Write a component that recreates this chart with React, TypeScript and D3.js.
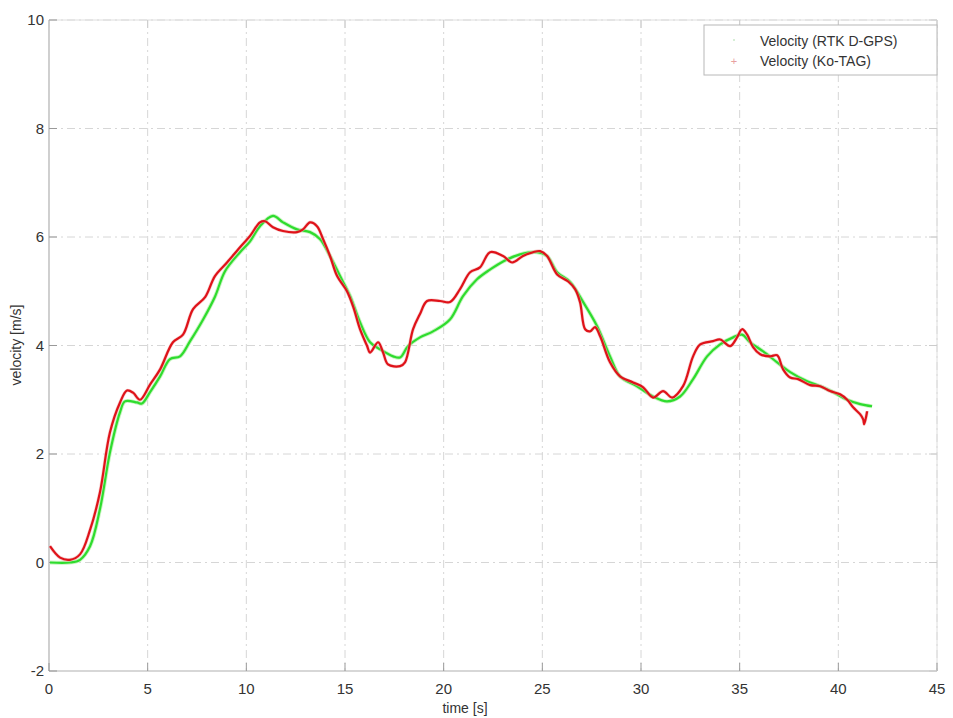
import React from "react";
import * as d3 from "d3";

const xTicks = [0, 5, 10, 15, 20, 25, 30, 35, 40, 45];
const yTicks = [-2, 0, 2, 4, 6, 8, 10];

const rtkTime = [0.05, 1.06, 1.57, 2.08, 2.58, 3.09, 3.6, 3.85, 4.46, 4.71, 5.12, 5.63, 6.13, 6.64, 7.15, 7.81, 8.41, 8.92, 9.68, 10.19, 10.69, 11.35, 11.86, 12.57, 13.23, 13.74, 14.24, 14.75, 15.26, 15.76, 16.27, 16.78, 17.44, 17.79, 18.2, 18.8, 19.46, 20.32, 20.98, 21.69, 22.35, 23.01, 23.87, 24.73, 25.24, 25.75, 26.41, 27.07, 27.77, 28.43, 28.94, 29.8, 30.61, 31.32, 31.98, 32.64, 33.35, 34.01, 34.67, 35.12, 35.53, 36.19, 36.9, 37.56, 38.42, 39.08, 39.74, 40.45, 41.11, 41.71];
const rtkVel = [0, 0, 0.05, 0.3, 0.98, 2.03, 2.77, 2.97, 2.95, 2.93, 3.14, 3.43, 3.75, 3.8, 4.08, 4.48, 4.9, 5.37, 5.72, 5.92, 6.2, 6.39, 6.27, 6.14, 6.09, 5.96, 5.65, 5.28, 4.91, 4.43, 4.06, 3.93, 3.8, 3.78, 3.99, 4.15, 4.26, 4.48, 4.91, 5.22, 5.4, 5.55, 5.68, 5.72, 5.65, 5.35, 5.17, 4.8, 4.36, 3.8, 3.43, 3.25, 3.06, 2.97, 3.06, 3.38, 3.8, 4.02, 4.15, 4.2, 4.06, 3.89, 3.69, 3.51, 3.34, 3.25, 3.14, 3.0, 2.92, 2.88];

const kotagTime = [0.05, 0.56, 1.06, 1.57, 2.08, 2.58, 3.09, 3.6, 3.95, 4.26, 4.61, 5.12, 5.63, 6.28, 6.79, 7.3, 7.91, 8.41, 9.02, 9.68, 10.19, 10.69, 10.95, 11.35, 11.86, 12.57, 12.87, 13.23, 13.58, 13.89, 14.24, 14.6, 15.1, 15.41, 15.76, 16.12, 16.27, 16.68, 16.93, 17.18, 17.79, 18.04, 18.45, 18.8, 19.16, 19.82, 20.32, 20.83, 21.34, 21.84, 22.35, 23.01, 23.47, 24.02, 24.53, 24.89, 25.24, 25.75, 26.31, 26.66, 26.91, 27.17, 27.42, 27.67, 27.93, 28.43, 28.94, 29.6, 30.11, 30.61, 31.12, 31.58, 32.13, 32.64, 33.0, 33.65, 34.01, 34.52, 34.87, 35.12, 35.38, 35.68, 36.04, 36.54, 36.9, 37.2, 37.56, 37.96, 38.57, 39.08, 39.58, 40.09, 40.45, 40.75, 41.11, 41.26, 41.31, 41.46];
const kotagVel = [0.3, 0.09, 0.05, 0.15, 0.6, 1.29, 2.4, 2.95, 3.17, 3.13, 3.0, 3.28, 3.56, 4.06, 4.2, 4.67, 4.89, 5.28, 5.53, 5.81, 6.02, 6.27, 6.29, 6.18, 6.11, 6.09, 6.14, 6.27, 6.2, 5.96, 5.65, 5.28, 5.0, 4.72, 4.3, 3.99, 3.87, 4.06, 3.87, 3.65, 3.62, 3.69, 4.3, 4.58, 4.82, 4.82, 4.8, 5.04, 5.35, 5.44, 5.72, 5.65, 5.53, 5.65, 5.72, 5.74, 5.65, 5.31, 5.18, 5.04, 4.8, 4.3, 4.26, 4.34, 4.17, 3.69, 3.43, 3.32, 3.23, 3.04, 3.16, 3.04, 3.25, 3.8, 4.02, 4.08, 4.11, 3.99, 4.15, 4.3, 4.2, 3.97, 3.84, 3.8, 3.82, 3.56, 3.41, 3.38, 3.27, 3.25, 3.16, 3.1, 3.0, 2.86, 2.73, 2.64, 2.55, 2.79];

const seriesNames = ["Velocity (RTK D-GPS)", "Velocity (Ko-TAG)"];

export default function App() {
  const left = 49, right = 937, top = 20, bottom = 671;
  const x = d3.scaleLinear().domain([0, 45]).range([left, right]);
  const y = d3.scaleLinear().domain([-2, 10]).range([bottom, top]);
  const mk = (ts: number[], vs: number[]) =>
    d3
      .line<number>()
      .x((_, i) => x(ts[i]))
      .y((v) => y(v))
      .curve(d3.curveCatmullRom.alpha(0.5))(vs) || "";
  const font = "'Liberation Sans', Arial, sans-serif";
  const grid = "#d6d6d6";
  return (
    <svg
      width={953}
      height={718}
      style={{ position: "absolute", left: 0, top: 0, background: "#fff" }}
    >
      <rect x={0} y={0} width={953} height={718} fill="#fff" />
      {xTicks.slice(1).map((t) => (
        <line key={"gx" + t} x1={x(t)} x2={x(t)} y1={top} y2={bottom} stroke={grid} strokeWidth={1} strokeDasharray="8,4,2,4" />
      ))}
      {yTicks.slice(1).map((t) => (
        <line key={"gy" + t} x1={left} x2={right} y1={y(t)} y2={y(t)} stroke={grid} strokeWidth={1} strokeDasharray="8,4,2,4" />
      ))}
      <line x1={left} x2={left} y1={top} y2={bottom} stroke="#b0b0b0" strokeWidth={1.2} />
      <line x1={left} x2={right} y1={bottom} y2={bottom} stroke="#b0b0b0" strokeWidth={1.2} />
      <line x1={left} x2={right} y1={top} y2={top} stroke="#dedede" strokeWidth={1} />
      <line x1={right} x2={right} y1={top} y2={bottom} stroke="#dedede" strokeWidth={1} />
      {xTicks.map((t) => (
        <g key={"xt" + t}>
          <line x1={x(t)} x2={x(t)} y1={bottom} y2={bottom - 8} stroke="#999" />
          <line x1={x(t)} x2={x(t)} y1={top} y2={top + 8} stroke="#ccc" />
          <text x={x(t)} y={694} textAnchor="middle" fontFamily={font} fontSize={15} fill="#333">{t}</text>
        </g>
      ))}
      {yTicks.map((t) => (
        <g key={"yt" + t}>
          <line x1={left} x2={left + 8} y1={y(t)} y2={y(t)} stroke="#999" />
          <line x1={right} x2={right - 8} y1={y(t)} y2={y(t)} stroke="#ccc" />
          <text x={44} y={y(t) + 5} textAnchor="end" fontFamily={font} fontSize={15} fill="#333">{t}</text>
        </g>
      ))}
      <text x={465} y={713} textAnchor="middle" fontFamily={font} fontSize={14} fill="#333">time [s]</text>
      <text transform="translate(21,345) rotate(-90)" textAnchor="middle" fontFamily={font} fontSize={14} fill="#333">velocity [m/s]</text>
      <path d={mk(rtkTime, rtkVel)} fill="none" stroke="#c8f5c0" strokeWidth={4} strokeLinejoin="round" />
      <path d={mk(rtkTime, rtkVel)} fill="none" stroke="#2edc2e" strokeWidth={2.2} strokeLinejoin="round" />
      <path d={mk(kotagTime, kotagVel)} fill="none" stroke="#f0b0b0" strokeWidth={3.5} strokeLinejoin="round" opacity={0.6} />
      <path d={mk(kotagTime, kotagVel)} fill="none" stroke="#df1219" strokeWidth={2.2} strokeLinejoin="round" />
      <g>
        <rect x={704} y={25} width={233} height={50} fill="#fff" stroke="#b8b8b8" strokeWidth={1} />
        <circle cx={734} cy={40} r={1} fill="#c8e8c8" />
        <text x={734} y={65} textAnchor="middle" fontFamily={font} fontSize={11} fill="#e8a0a0">+</text>
        <text x={760} y={46} fontFamily={font} fontSize={14} fill="#333">{seriesNames[0]}</text>
        <text x={760} y={66} fontFamily={font} fontSize={14} fill="#333">{seriesNames[1]}</text>
      </g>
    </svg>
  );
}
